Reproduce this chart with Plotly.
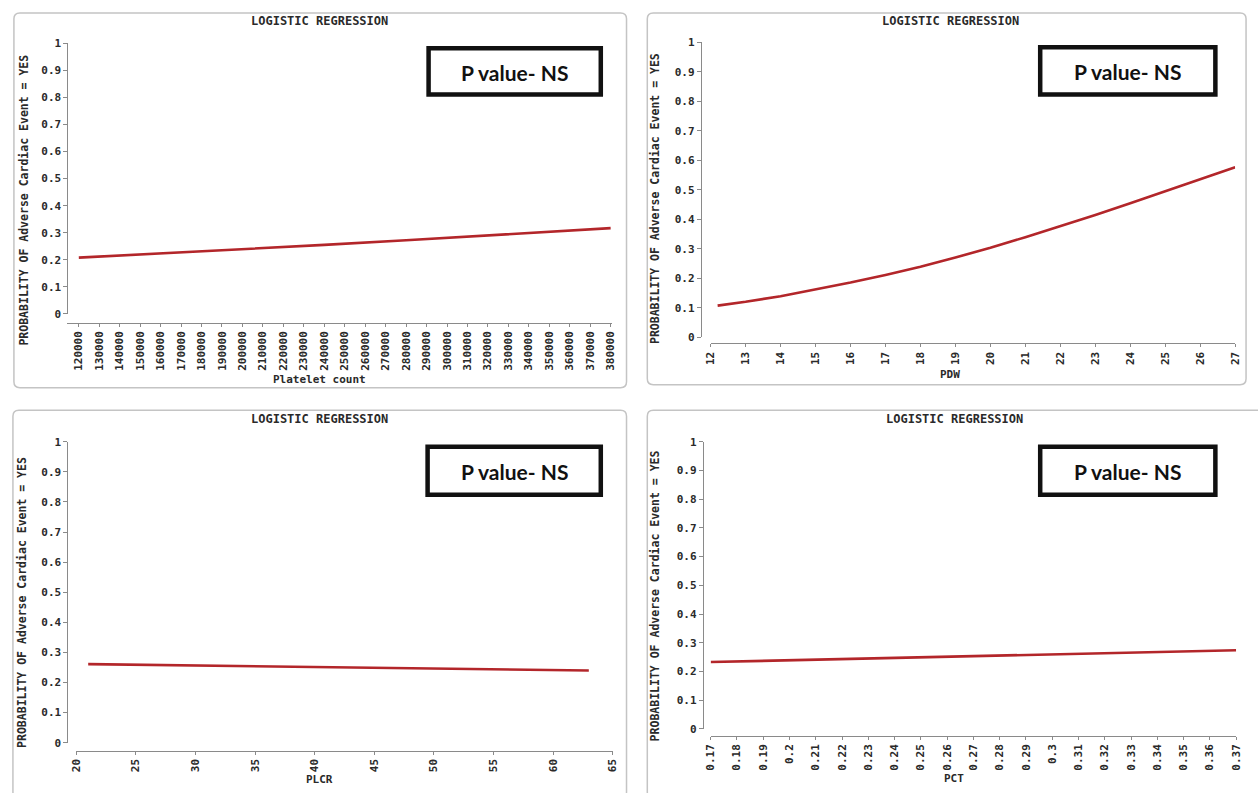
import plotly.graph_objects as go

W, H = 1258, 793

# ---------------- data ----------------
platelet_x = [120000, 160000, 200000, 240000, 280000, 320000, 360000, 380000]
platelet_p = [0.208, 0.223, 0.239, 0.255, 0.272, 0.289, 0.307, 0.317]
platelet_ticks = list(range(120000, 380001, 10000))
platelet_ticktext = [str(v) for v in platelet_ticks]

pdw_x = [12.2, 13, 14, 15, 16, 17, 18, 19, 20, 21, 22, 23, 24, 25, 26, 27]
pdw_p = [0.108, 0.121, 0.140, 0.162, 0.186, 0.212, 0.240, 0.271, 0.304,
         0.340, 0.377, 0.415, 0.455, 0.496, 0.536, 0.577]
pdw_ticks = list(range(12, 28))
pdw_ticktext = [str(v) for v in pdw_ticks]

plcr_x = [21, 30, 40, 50, 63]
plcr_p = [0.261, 0.257, 0.252, 0.247, 0.240]
plcr_ticks = list(range(20, 66, 5))
plcr_ticktext = [str(v) for v in plcr_ticks]

pct_x = [0.17, 0.22, 0.27, 0.32, 0.37]
pct_p = [0.233, 0.243, 0.253, 0.263, 0.274]
pct_ticks = [round(0.17 + 0.01 * i, 2) for i in range(21)]
pct_ticktext = ["0.17", "0.18", "0.19", "0.2", "0.21", "0.22", "0.23", "0.24", "0.25",
                "0.26", "0.27", "0.28", "0.29", "0.3", "0.31", "0.32", "0.33", "0.34",
                "0.35", "0.36", "0.37"]

y_ticks = [0, 0.1, 0.2, 0.3, 0.4, 0.5, 0.6, 0.7, 0.8, 0.9, 1]
y_ticktext = ["0", "0.1", "0.2", "0.3", "0.4", "0.5", "0.6", "0.7", "0.8", "0.9", "1"]

chart_title = "LOGISTIC REGRESSION"
y_title = "PROBABILITY OF Adverse Cardiac Event = YES"
box_text = "P value- NS"


def X(px):
    return px / W


def Y(py):
    return 1 - py / H


MONO = "DejaVu Sans Mono"
TXT = "#2a2a2a"
AX = "#8a8a8a"

panels = [
    dict(x=platelet_x, y=platelet_p, ticks=platelet_ticks, ticktext=platelet_ticktext,
         xrange=[114400, 380500], xdom=(62, 612), ydom=(38, 313), yaxpos=62, xaxpos=322,
         xtitle="Platelet count", title_xy=(317, 15), xt_xy=(317, 380), yt_xy=(18, 197),
         frame=(8, 7, 627, 388), box=(427, 43, 601, 90)),
    dict(x=pdw_x, y=pdw_p, ticks=pdw_ticks, ticktext=pdw_ticktext,
         xrange=[12, 27], xdom=(712, 1242), ydom=(37, 337), yaxpos=702, xaxpos=343,
         xtitle="PDW", title_xy=(954, 15), xt_xy=(954, 375), yt_xy=(656, 196),
         frame=(648, 7, 1253, 385), box=(1045, 42, 1222, 90)),
    dict(x=plcr_x, y=plcr_p, ticks=plcr_ticks, ticktext=plcr_ticktext,
         xrange=[20, 65], xdom=(71, 613), ydom=(443, 749), yaxpos=62, xaxpos=757,
         xtitle="PLCR", title_xy=(317, 420), xt_xy=(317, 786), yt_xy=(16, 606),
         frame=(7, 411, 627, 805), box=(426, 448, 601, 497)),
    dict(x=pct_x, y=pct_p, ticks=pct_ticks, ticktext=pct_ticktext,
         xrange=[0.17, 0.37], xdom=(712, 1243), ydom=(443, 735), yaxpos=704, xaxpos=742,
         xtitle="PCT", title_xy=(958, 420), xt_xy=(958, 785), yt_xy=(656, 600),
         frame=(648, 411, 1270, 805), box=(1045, 448, 1222, 497)),
]

fig = go.Figure()
layout = dict(
    width=W, height=H,
    margin=dict(l=0, r=0, t=0, b=0),
    paper_bgcolor="white", plot_bgcolor="white",
    showlegend=False,
    shapes=[], annotations=[],
)


def rounded_path(x0, y0, x1, y1, r=6):
    pts = []
    pts.append(f"M {X(x0 + r)} {Y(y0)}")
    pts.append(f"L {X(x1 - r)} {Y(y0)}")
    pts.append(f"Q {X(x1)} {Y(y0)} {X(x1)} {Y(y0 + r)}")
    pts.append(f"L {X(x1)} {Y(y1 - r)}")
    pts.append(f"Q {X(x1)} {Y(y1)} {X(x1 - r)} {Y(y1)}")
    pts.append(f"L {X(x0 + r)} {Y(y1)}")
    pts.append(f"Q {X(x0)} {Y(y1)} {X(x0)} {Y(y1 - r)}")
    pts.append(f"L {X(x0)} {Y(y0 + r)}")
    pts.append(f"Q {X(x0)} {Y(y0)} {X(x0 + r)} {Y(y0)}")
    pts.append("Z")
    return " ".join(pts)


for i, p in enumerate(panels):
    n = "" if i == 0 else str(i + 1)
    fig.add_trace(go.Scatter(
        x=p["x"], y=p["y"], mode="lines", line=dict(color="#b3262a", width=2.6),
        xaxis="x" + n, yaxis="y" + n, hoverinfo="skip"))

    layout["xaxis" + n] = dict(
        domain=[X(p["xdom"][0]), X(p["xdom"][1])], range=p["xrange"],
        anchor="free", position=Y(p["xaxpos"]),
        showgrid=False, zeroline=False, showline=True, linecolor=AX, linewidth=1,
        ticks="outside", ticklen=3, tickcolor=AX,
        tickmode="array", tickvals=p["ticks"], ticktext=p["ticktext"], tickangle=-90,
        tickfont=dict(family=MONO, size=11, color=TXT, weight="bold"),
        fixedrange=True,
    )
    layout["yaxis" + n] = dict(
        domain=[Y(p["ydom"][1]), Y(p["ydom"][0])], range=[0, 1],
        anchor="free", position=X(p["yaxpos"]),
        showgrid=False, zeroline=False, showline=True, linecolor=AX, linewidth=1,
        ticks="outside", ticklen=4, tickcolor=AX,
        tickmode="array", tickvals=y_ticks, ticktext=y_ticktext,
        tickfont=dict(family=MONO, size=11, color=TXT, weight="bold"),
        fixedrange=True,
    )

    fx0, fy0, fx1, fy1 = p["frame"]
    layout["shapes"].append(dict(
        type="path", xref="paper", yref="paper", path=rounded_path(fx0, fy0, fx1, fy1),
        line=dict(color="#c4c4c4", width=1.5), fillcolor="rgba(0,0,0,0)", layer="below"))

    bx0, by0, bx1, by1 = p["box"]
    layout["shapes"].append(dict(
        type="rect", xref="paper", yref="paper",
        x0=X(bx0), x1=X(bx1), y0=Y(by1), y1=Y(by0),
        line=dict(color="#111111", width=4.5), fillcolor="white", layer="above"))
    layout["annotations"].append(dict(
        xref="paper", yref="paper", x=X((bx0 + bx1) / 2), y=Y((by0 + by1) / 2 + 1),
        text=box_text, showarrow=False, xanchor="center", yanchor="middle",
        font=dict(family="Lato", size=21, color="#111111", weight="bold")))

    layout["annotations"].append(dict(
        xref="paper", yref="paper", x=X(p["title_xy"][0]), y=Y(p["title_xy"][1]),
        text=chart_title, showarrow=False, xanchor="center", yanchor="middle",
        font=dict(family=MONO, size=12, color=TXT, weight="bold")))
    layout["annotations"].append(dict(
        xref="paper", yref="paper", x=X(p["xt_xy"][0]), y=Y(p["xt_xy"][1]),
        text=p["xtitle"], showarrow=False, xanchor="center", yanchor="middle",
        font=dict(family=MONO, size=11, color=TXT, weight="bold")))
    layout["annotations"].append(dict(
        xref="paper", yref="paper", x=X(p["yt_xy"][0]), y=Y(p["yt_xy"][1]),
        text=y_title, showarrow=False, xanchor="center", yanchor="middle", textangle=-90,
        font=dict(family=MONO, size=11.5, color=TXT, weight="bold")))

fig.update_layout(**layout)
fig.write_html("out.html", include_plotlyjs=True, config={"displayModeBar": False},
               post_script="document.body.style.margin='0';document.body.style.overflow='hidden';")
